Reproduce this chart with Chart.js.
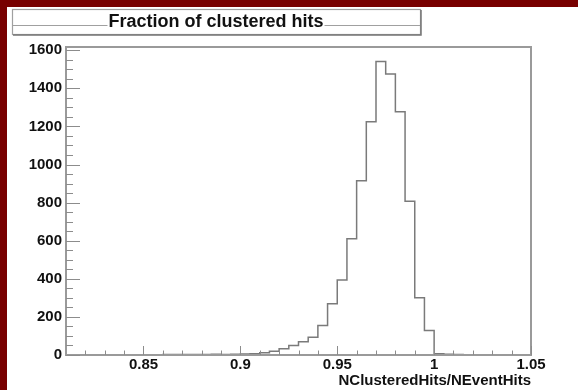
<!DOCTYPE html>
<html><head><meta charset="utf-8">
<script src="https://cdn.jsdelivr.net/npm/chart.js@4.4.1/dist/chart.umd.min.js"></script>
<style>html,body{margin:0;padding:0;background:#780000;overflow:hidden}canvas{display:block}</style>
</head><body>
<canvas id="c" width="578" height="390"></canvas>
<script>
// ---- data ----
const chartTitle = 'Fraction of clustered hits';
const xAxisTitle = 'NClusteredHits/NEventHits';
const binLowEdges = [0.81,0.815,0.82,0.825,0.83,0.835,0.84,0.845,0.85,0.855,0.86,0.865,0.87,0.875,0.88,0.885,
  0.89,0.895,0.9,0.905,0.91,0.915,0.92,0.925,0.93,0.935,0.94,0.945,0.95,0.955,0.96,0.965,
  0.97,0.975,0.98,0.985,0.99,0.995,1.0,1.005,1.01,1.015,1.02,1.025,1.03,1.035,1.04,1.045];
const histUpperEdge = 1.05;
const counts = [0,0,0,0,0,0,0,0,1,1,2,2,3,2,3,4,
  3,4,5,7,12,20,33,50,70,93,155,269,394,610,915,1225,
  1541,1475,1277,807,300,129,6,4,2,0,0,0,0,0,0,0];
const xMajorTicks = [0.85,0.9,0.95,1,1.05];
const xMinorTicks = [0.82,0.83,0.84,0.86,0.87,0.88,0.89,0.91,0.92,0.93,0.94,0.96,0.97,0.98,0.99,1.01,1.02,1.03,1.04];
const yMajorTicks = [0,200,400,600,800,1000,1200,1400,1600];
const yMinorTicks = [50,100,150,250,300,350,450,500,550,650,700,750,850,900,950,1050,1100,1150,1250,1300,1350,1450,1500,1550];
const xRange = [0.81, 1.05];
const yRange = [0, 1617];

// ---- build ----
const points = binLowEdges.map((x, i) => ({x: x, y: counts[i]}));
points.push({x: histUpperEdge, y: counts[counts.length - 1]});

const FONT = "'Liberation Sans', Arial, Helvetica, sans-serif";
const TXT = '#111';
const LINE = '#8c8c8c';

const rootStyle = {
  id: 'rootStyle',
  beforeDraw(chart) {
    const ctx = chart.ctx;
    ctx.save();
    ctx.fillStyle = '#780000';
    ctx.fillRect(0, 0, chart.width, chart.height);
    ctx.fillStyle = '#ffffff';
    ctx.fillRect(7, 7, chart.width - 7, chart.height - 7);
    ctx.restore();
  },
  afterDraw(chart) {
    const ctx = chart.ctx;
    const a = chart.chartArea;
    const xs = chart.scales.x, ys = chart.scales.y;
    ctx.save();
    // frame
    ctx.strokeStyle = '#9a9a9a';
    ctx.lineWidth = 2;
    ctx.strokeRect(a.left, a.top, a.right - a.left, a.bottom - a.top);
    // ticks (inside, ROOT style)
    ctx.strokeStyle = LINE;
    ctx.lineWidth = 1;
    ctx.beginPath();
    xMajorTicks.forEach(v => { const p = Math.round(xs.getPixelForValue(v)) + 0.5; ctx.moveTo(p, a.bottom); ctx.lineTo(p, a.bottom - 9); });
    xMinorTicks.forEach(v => { const p = Math.round(xs.getPixelForValue(v)) + 0.5; ctx.moveTo(p, a.bottom); ctx.lineTo(p, a.bottom - 4.5); });
    yMajorTicks.forEach(v => { const p = Math.round(ys.getPixelForValue(v)) + 0.5; ctx.moveTo(a.left, p); ctx.lineTo(a.left + 14, p); });
    yMinorTicks.forEach(v => { const p = Math.round(ys.getPixelForValue(v)) + 0.5; ctx.moveTo(a.left, p); ctx.lineTo(a.left + 7, p); });
    ctx.stroke();
    // title box
    const bx = 12, by = 9, bw = 408, bh = 25;
    ctx.fillStyle = '#fff';
    ctx.fillRect(bx, by, bw, bh);
    ctx.strokeStyle = '#a0a0a0';
    ctx.lineWidth = 1.2;
    ctx.strokeRect(bx + 0.5, by + 0.5, bw, bh);
    ctx.strokeStyle = '#777';
    ctx.lineWidth = 1.5;
    ctx.beginPath();
    ctx.moveTo(bx + 1, by + bh + 1); ctx.lineTo(bx + bw + 1, by + bh + 1); ctx.lineTo(bx + bw + 1, by + 1);
    ctx.stroke();
    ctx.font = 'bold 18px ' + FONT;
    const tw = ctx.measureText(chartTitle).width;
    const cx = bx + bw / 2, cy = by + 13;
    ctx.strokeStyle = '#a0a0a0';
    ctx.lineWidth = 1.2;
    ctx.beginPath();
    ctx.moveTo(bx, by + 16.5); ctx.lineTo(cx - tw / 2 - 1, by + 16.5);
    ctx.moveTo(cx + tw / 2 + 1, by + 16.5); ctx.lineTo(bx + bw, by + 16.5);
    ctx.stroke();
    ctx.fillStyle = TXT;
    ctx.textAlign = 'center';
    ctx.textBaseline = 'middle';
    ctx.fillText(chartTitle, cx, cy);
    ctx.restore();
  }
};

new Chart(document.getElementById('c'), {
  type: 'line',
  data: {
    datasets: [{
      data: points,
      stepped: true,
      borderColor: '#7a7a7a',
      borderWidth: 1.5,
      pointRadius: 0,
      fill: false
    }]
  },
  options: {
    responsive: false,
    animation: false,
    events: [],
    layout: { padding: { left: 0, right: 47, top: 47, bottom: 0 } },
    plugins: { legend: { display: false }, tooltip: { enabled: false }, title: { display: false } },
    scales: {
      x: {
        type: 'linear',
        min: xRange[0], max: xRange[1],
        afterBuildTicks: s => { s.ticks = xMajorTicks.concat(xMinorTicks).sort((p, q) => p - q).map(v => ({value: v})); },
        afterFit: s => { s.height = 35; },
        grid: { display: false, drawTicks: false },
        border: { display: false },
        ticks: {
          autoSkip: false, maxRotation: 0, padding: 1, color: TXT,
          font: { family: FONT, size: 15, weight: 'bold' },
          callback: v => xMajorTicks.includes(v) ? String(v) : ''
        },
        title: {
          display: true, text: xAxisTitle, align: 'end', color: TXT,
          font: { family: FONT, size: 15, weight: 'bold' },
          padding: { top: 0, bottom: 0 }
        }
      },
      y: {
        min: yRange[0], max: yRange[1],
        afterBuildTicks: s => { s.ticks = yMajorTicks.concat(yMinorTicks).sort((p, q) => p - q).map(v => ({value: v})); },
        afterFit: s => { s.width = 66; },
        grid: { display: false, drawTicks: false },
        border: { display: false },
        ticks: {
          autoSkip: false, padding: 4, color: TXT,
          font: { family: FONT, size: 15, weight: 'bold' },
          callback: v => yMajorTicks.includes(v) ? String(v) : ''
        }
      }
    }
  },
  plugins: [rootStyle]
});
</script>
</body></html>
